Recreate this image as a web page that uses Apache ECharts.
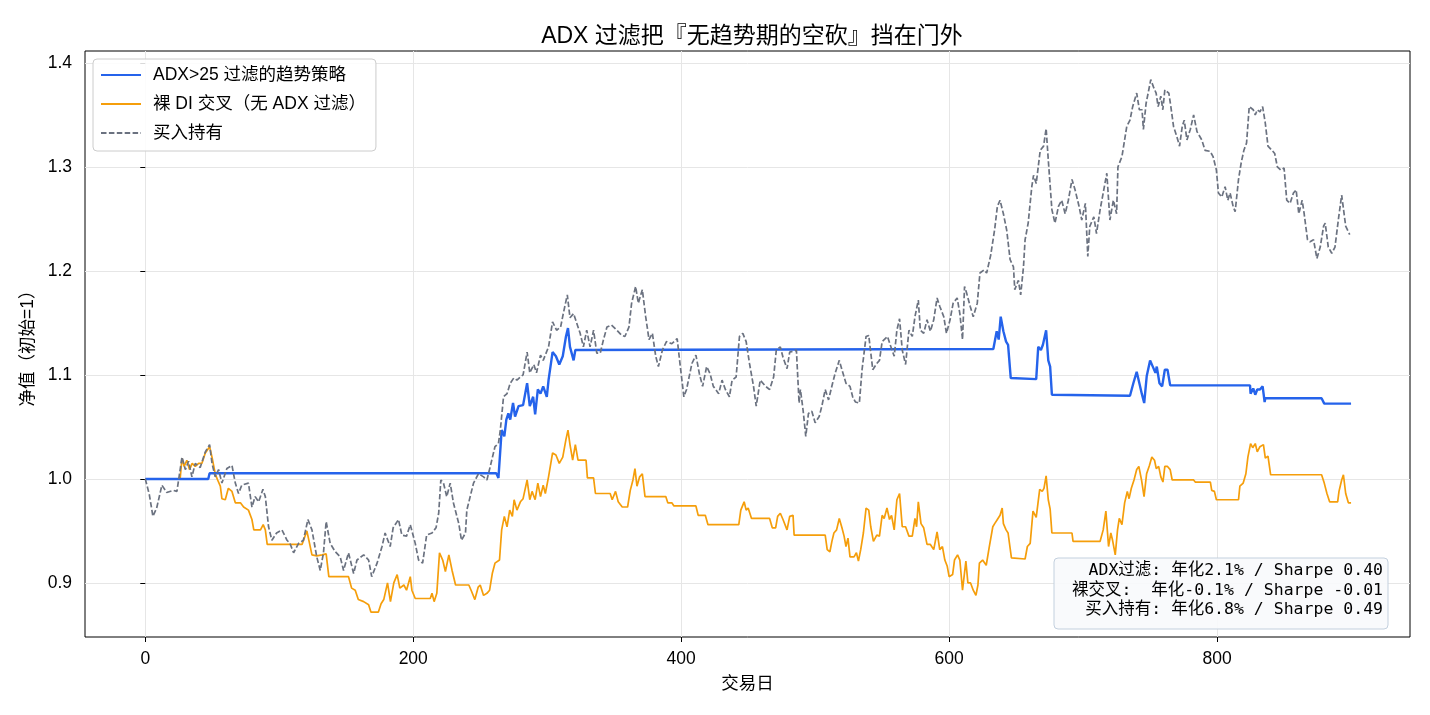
<!DOCTYPE html>
<html>
<head>
<meta charset="utf-8">
<script src="https://cdn.jsdelivr.net/npm/echarts@6/dist/echarts.min.js"></script>
<style>
html,body{margin:0;padding:0;background:#fff;}
#main{width:1430px;height:715px;}
</style>
</head>
<body>
<div id="main"></div>
<script>
const chartTitle = 'ADX 过滤把『无趋势期的空砍』挡在门外';
const seriesNames = ['ADX>25 过滤的趋势策略', '裸 DI 交叉（无 ADX 过滤）', '买入持有'];
const xTicks = [0, 200, 400, 600, 800];
const yTicks = [0.9, 1.0, 1.1, 1.2, 1.3, 1.4];
const statLines = [
  'ADX过滤: 年化2.1% / Sharpe 0.40',
  '裸交叉:  年化-0.1% / Sharpe -0.01',
  '买入持有: 年化6.8% / Sharpe 0.49'
];

// ADX>25 filtered strategy [day, nav]
const adxCurve = [[0,1.0],[47,1.0],[48,1.0055],[262,1.0055],[263.6,1.001],[266,1.047],[268,1.041],[269.5,1.057],[271,1.063],[272.4,1.057],[274.5,1.073],[276,1.060],[278.6,1.070],[282,1.071],[285,1.092],[287,1.070],[289.5,1.079],[291,1.062],[293,1.086],[295,1.082],[297,1.089],[299.7,1.079],[301,1.095],[304,1.122],[306.5,1.118],[309,1.110],[311.6,1.118],[314,1.137],[315.5,1.145],[317,1.127],[319.7,1.114],[321,1.124],[322,1.125],[633,1.125],[635.5,1.142],[637,1.134],[638.5,1.156],[640.5,1.142],[642.5,1.132],[644,1.129],[646,1.097],[665,1.096],[666.5,1.127],[668.5,1.124],[670,1.129],[672.4,1.143],[674,1.114],[675.4,1.108],[676.7,1.081],[735,1.080],[737.5,1.092],[740,1.103],[742,1.092],[743.8,1.082],[745.6,1.073],[747.5,1.099],[750,1.114],[752,1.108],[754,1.102],[755,1.108],[757,1.092],[759,1.089],[761,1.105],[763,1.105],[765,1.090],[824.6,1.090],[825,1.082],[827,1.087],[828.5,1.081],[830,1.086],[832,1.086],[834,1.089],[835.5,1.074],[836,1.0776],[878,1.0776],[880,1.0724],[900,1.0724]];

// naked DI cross [day, nav]
const diCurve = [[0,1.0],[26,1.0],[27.4,1.020],[29,1.012],[31,1.018],[33,1.009],[35,1.015],[37.3,1.012],[39.8,1.015],[42.3,1.015],[44.8,1.025],[48,1.031],[49.8,1.021],[52.2,1.005],[54,0.999],[56,0.993],[57.2,0.981],[59.7,0.980],[62,0.991],[64.7,0.988],[67.2,0.977],[71,0.977],[73.4,0.973],[77,0.970],[79.6,0.961],[81,0.951],[86,0.951],[88,0.956],[89.6,0.951],[91,0.937],[117,0.937],[118,0.938],[120.6,0.950],[122.6,0.938],[124.4,0.927],[128,0.926],[132,0.927],[135,0.928],[137,0.906],[151.7,0.906],[154,0.895],[156.7,0.893],[159,0.884],[163,0.882],[166.7,0.879],[168.4,0.872],[174,0.872],[176,0.880],[178,0.884],[180.8,0.900],[183,0.882],[185.5,0.900],[188,0.908],[190,0.895],[193,0.898],[195,0.893],[197.8,0.906],[199,0.893],[201.5,0.885],[212.7,0.885],[214,0.890],[215.6,0.882],[217.6,0.890],[219.6,0.929],[222,0.922],[224,0.911],[226.6,0.927],[229,0.912],[231.6,0.898],[241.5,0.898],[243.5,0.892],[246,0.884],[248.5,0.896],[250,0.898],[252.5,0.888],[255,0.890],[257,0.893],[259,0.909],[261,0.919],[264.4,0.922],[266,0.951],[268,0.964],[270,0.954],[272,0.970],[274,0.964],[275.3,0.980],[277.4,0.970],[280,0.978],[282,0.981],[285,0.999],[287,0.980],[288.7,0.988],[291,0.980],[293,0.996],[295,0.983],[297,0.994],[298.6,0.986],[301,1.002],[304,1.025],[306.5,1.023],[309,1.015],[311.6,1.021],[314,1.038],[315.5,1.047],[317,1.033],[319,1.018],[321,1.033],[323,1.018],[329,1.018],[330,1.001],[334.6,1.001],[336,0.986],[347,0.986],[348.5,0.980],[351,0.988],[353,0.978],[356,0.973],[360,0.973],[362,0.989],[364,0.999],[365.5,1.010],[367,0.993],[369,1.002],[371,1.005],[373,0.983],[388.5,0.983],[390,0.977],[393,0.977],[394.6,0.974],[411,0.974],[412.7,0.965],[418,0.965],[420,0.956],[443,0.956],[444.5,0.970],[447,0.978],[448.5,0.970],[450,0.972],[452.5,0.962],[466,0.962],[468,0.953],[470.5,0.953],[472,0.964],[474,0.967],[476,0.961],[479,0.951],[481,0.964],[483.5,0.965],[484.3,0.946],[507.5,0.946],[509,0.932],[511,0.930],[512.5,0.940],[514,0.948],[516,0.951],[518,0.962],[520,0.953],[521.6,0.945],[523,0.935],[524.5,0.943],[526,0.925],[529,0.925],[530.8,0.929],[532.3,0.921],[534,0.932],[536,0.948],[538,0.972],[540,0.970],[541.5,0.954],[543.5,0.940],[546,0.946],[548,0.945],[550,0.965],[551.5,0.962],[553.6,0.972],[555.5,0.961],[557,0.965],[559,0.951],[561,0.980],[563,0.986],[565,0.954],[567.5,0.954],[570,0.945],[572.5,0.945],[574.5,0.962],[575.7,0.954],[577,0.978],[579,0.957],[581,0.953],[583.5,0.937],[586,0.937],[588.5,0.932],[591,0.949],[593,0.932],[595,0.935],[596.8,0.922],[598.6,0.916],[600,0.906],[602.6,0.908],[604,0.922],[606.3,0.927],[608,0.922],[610,0.893],[611,0.893],[612.5,0.921],[614,0.900],[616,0.900],[618,0.893],[620,0.888],[621.5,0.898],[622.6,0.919],[625,0.922],[627.7,0.917],[630,0.935],[632.6,0.954],[634,0.957],[636,0.961],[638,0.965],[639.6,0.972],[640.5,0.957],[642.5,0.951],[644,0.948],[646.5,0.924],[656.7,0.923],[658.4,0.935],[660.5,0.938],[662.6,0.969],[665,0.963],[667.6,0.990],[669.5,0.988],[670.8,0.991],[672.4,1.003],[674,0.980],[675.4,0.971],[676.7,0.948],[691.7,0.948],[692.5,0.940],[712.7,0.940],[715,0.951],[717,0.969],[719,0.935],[720.7,0.948],[722,0.941],[724,0.927],[725.7,0.951],[727,0.962],[729,0.956],[731,0.977],[733,0.988],[734.3,0.981],[736,0.991],[738,0.999],[740,1.009],[741.6,1.012],[743.6,0.999],[745.5,0.983],[747.4,1.005],[749.5,1.013],[751.3,1.021],[753.3,1.018],[754.6,1.010],[756.4,1.012],[758,1.002],[759.6,0.997],[761,1.012],[763,1.012],[765,1.009],[766.5,0.999],[782.5,0.999],[783.7,0.997],[795,0.997],[796,0.989],[798,0.988],[799.5,0.980],[816,0.980],[817,0.993],[819.5,0.996],[821.5,1.005],[823,1.021],[825,1.034],[826.6,1.030],[828.5,1.034],[830,1.026],[832,1.031],[834.6,1.033],[836,1.020],[838,1.022],[840,1.004],[878,1.004],[880,0.996],[882,0.986],[884,0.978],[890,0.978],[891,0.988],[893,0.999],[894.3,1.004],[896,0.986],[898,0.977],[900,0.977]];

// buy and hold [day, nav]
const holdCurve = [[0,1.0],[3,0.985],[5.7,0.964],[8.5,0.972],[12.4,0.994],[16,0.987],[21,0.989],[23.6,0.988],[27.4,1.021],[29.9,1.009],[32.3,1.017],[34.8,1.002],[37.3,1.015],[41,1.011],[44.8,1.026],[48,1.033],[49.8,1.015],[52.2,1.002],[54.7,1.009],[57.2,0.996],[60.9,1.010],[64.7,1.013],[67.2,0.996],[69.6,0.986],[72,0.994],[77,0.996],[79.6,0.973],[82,0.983],[84.6,0.978],[87.8,0.990],[89.6,0.983],[92,0.954],[94.5,0.941],[98,0.948],[102,0.951],[105.8,0.941],[108,0.938],[110.7,0.929],[114.4,0.938],[118,0.941],[121.4,0.961],[124.4,0.951],[128,0.925],[130.6,0.912],[133,0.929],[135,0.959],[138,0.938],[141.8,0.930],[145.5,0.925],[148,0.912],[151.7,0.929],[155.5,0.909],[158,0.922],[163,0.927],[166.7,0.922],[169,0.906],[173,0.919],[176.7,0.935],[179,0.948],[182.8,0.935],[185,0.953],[189,0.961],[191.5,0.946],[195,0.945],[197.8,0.956],[201.5,0.938],[204,0.922],[207,0.919],[210,0.946],[214,0.948],[217,0.953],[219,0.967],[220.6,0.999],[222.6,0.996],[225,0.983],[227.6,0.996],[230,0.977],[234,0.957],[236,0.941],[239,0.948],[240,0.970],[242.5,0.983],[245,0.996],[248.7,1.005],[252.5,1.002],[255,0.999],[257.5,1.012],[261,1.031],[263.6,1.034],[265,1.047],[267.4,1.079],[270,1.082],[272.4,1.092],[275,1.097],[277.4,1.095],[280,1.098],[282,1.100],[285,1.122],[287,1.102],[290,1.110],[292,1.102],[295,1.119],[297,1.114],[301,1.127],[304,1.151],[307,1.143],[310,1.146],[312,1.159],[315,1.177],[317,1.155],[319.7,1.159],[322,1.150],[324.6,1.140],[327,1.127],[329.5,1.143],[332,1.127],[334.6,1.143],[337,1.121],[339.6,1.121],[342,1.134],[344.6,1.146],[348,1.148],[352,1.143],[355.7,1.138],[358,1.137],[361,1.146],[363,1.169],[366,1.185],[368,1.169],[371,1.182],[373.5,1.156],[376,1.134],[378.5,1.140],[381,1.118],[383,1.108],[386,1.124],[389,1.132],[393,1.130],[397,1.135],[399,1.112],[402,1.079],[404,1.086],[408,1.111],[411,1.119],[413.6,1.101],[416,1.089],[419,1.108],[421.6,1.101],[424,1.089],[428,1.082],[430.5,1.095],[433,1.086],[436,1.079],[438,1.095],[441,1.098],[443.5,1.137],[446,1.140],[448.5,1.132],[451,1.111],[454,1.089],[456,1.070],[459,1.095],[463,1.089],[466,1.086],[469,1.098],[471,1.124],[474,1.127],[476,1.117],[479,1.106],[481,1.122],[484,1.123],[486,1.124],[488,1.073],[489,1.086],[491,1.066],[493,1.041],[495,1.063],[497.5,1.065],[500,1.054],[503,1.060],[505,1.070],[507.5,1.086],[510,1.076],[513,1.092],[515,1.102],[518,1.114],[520,1.105],[523,1.092],[526,1.089],[528,1.079],[530,1.074],[533,1.073],[535,1.105],[538,1.137],[540,1.138],[543,1.105],[546,1.111],[548,1.114],[550,1.132],[554,1.137],[556,1.129],[559,1.118],[561,1.143],[563,1.154],[565,1.124],[567.5,1.110],[570,1.143],[572.5,1.137],[574.5,1.156],[577,1.172],[578.5,1.143],[581,1.140],[583.5,1.153],[586,1.142],[588.5,1.153],[591,1.174],[593,1.166],[596,1.156],[598,1.140],[600.7,1.153],[603,1.169],[606,1.174],[608,1.159],[610,1.134],[611.5,1.185],[613,1.179],[615.7,1.166],[618,1.156],[621,1.169],[623,1.198],[626,1.201],[628,1.198],[631,1.215],[634,1.240],[636,1.262],[638,1.268],[640.5,1.255],[643,1.239],[645.5,1.211],[648,1.204],[649,1.182],[651.7,1.191],[653.4,1.177],[655.5,1.204],[656.7,1.230],[659,1.246],[661.7,1.281],[663,1.292],[665,1.284],[668,1.316],[670.5,1.320],[672.4,1.337],[674,1.307],[676.7,1.259],[679,1.246],[681.6,1.262],[684,1.268],[686.6,1.255],[689,1.268],[691.7,1.288],[694,1.278],[697,1.262],[699,1.249],[701.7,1.265],[703.5,1.214],[705,1.243],[708,1.252],[710,1.236],[712.7,1.259],[715,1.275],[717.7,1.294],[720,1.249],[722.6,1.268],[725,1.255],[726,1.300],[729,1.310],[732.6,1.339],[735,1.345],[737,1.358],[740,1.371],[742,1.355],[744,1.355],[745,1.336],[747,1.361],[749,1.374],[750.5,1.384],[752.5,1.377],[754.5,1.371],[756,1.358],[758,1.368],[759.5,1.355],[761,1.374],[764,1.371],[765.5,1.358],[767.5,1.339],[770,1.329],[772,1.320],[774,1.339],[775.5,1.345],[777.5,1.326],[780,1.336],[782.5,1.350],[785,1.334],[788.6,1.326],[791,1.316],[794.8,1.315],[797,1.310],[799.5,1.297],[801,1.275],[803.5,1.271],[806,1.281],[808,1.268],[809.7,1.275],[812,1.262],[813.5,1.257],[816,1.288],[818,1.304],[820,1.316],[822,1.323],[824,1.358],[827,1.355],[828.5,1.350],[830,1.355],[832,1.353],[834,1.358],[836,1.342],[838,1.320],[841,1.316],[843,1.313],[845,1.300],[847.5,1.297],[850,1.299],[852,1.268],[854.5,1.265],[857,1.275],[859,1.278],[861,1.255],[863.5,1.268],[865,1.255],[867.5,1.230],[869.4,1.228],[872,1.230],[874.5,1.212],[877,1.223],[879.5,1.243],[880.7,1.246],[883,1.223],[885.6,1.217],[888,1.223],[890.8,1.252],[893,1.273],[896,1.243],[899,1.235]];

const FONT = "'Liberation Sans', Arial, 'Noto Sans CJK SC', sans-serif";
const MONO = "'DejaVu Sans Mono', 'Noto Sans CJK SC', monospace";

const chart = echarts.init(document.getElementById('main'), null, {renderer: 'canvas'});

const statTexts = statLines.map((t, i) => ({
  type: 'text', x: 1383, y: 571 + i * 19.6, z: 101,
  style: {text: t, font: '16.5px ' + MONO, fill: '#000', align: 'right', verticalAlign: 'middle'}
}));

const option = {
  animation: false,
  backgroundColor: '#ffffff',
  textStyle: {fontFamily: FONT},
  title: {
    text: chartTitle,
    left: 747, top: 20, textAlign: 'center',
    textStyle: {fontFamily: FONT, fontSize: 23, fontWeight: 'normal', color: '#000'}
  },
  grid: {
    left: 85, right: 20, top: 51, bottom: 78,
    show: true, borderColor: '#000', borderWidth: 1, backgroundColor: 'transparent'
  },
  legend: {
    orient: 'vertical', left: 93, top: 59,
    padding: [6, 10, 8, 7],
    itemWidth: 40, itemHeight: 14, itemGap: 9,
    backgroundColor: 'rgba(255,255,255,0.85)',
    borderColor: '#cccccc', borderWidth: 1, borderRadius: 4,
    itemStyle: {opacity: 0},
    textStyle: {fontFamily: FONT, fontSize: 17.5, lineHeight: 20, color: '#000', padding: [0, 0, 0, 7]},
    data: seriesNames
  },
  xAxis: {
    type: 'value', min: -45, max: 944,
    name: '交易日', nameLocation: 'middle', nameGap: 38,
    nameTextStyle: {fontFamily: FONT, fontSize: 17.5, color: '#000'},
    axisLine: {show: false},
    axisTick: {show: true, inside: false, length: 5, lineStyle: {color: '#000'}, customValues: xTicks},
    axisLabel: {fontFamily: FONT, fontSize: 17.5, color: '#000', margin: 13, customValues: xTicks},
    splitLine: {show: true, lineStyle: {color: '#e6e6e6', width: 1}}
  },
  yAxis: {
    type: 'value', min: 0.848, max: 1.4115,
    name: '净值（初始=1）', nameLocation: 'middle', nameGap: 40,
    nameTextStyle: {fontFamily: FONT, fontSize: 17.5, color: '#000'},
    axisLine: {show: false},
    axisTick: {show: true, inside: false, length: 5, lineStyle: {color: '#000'}, customValues: yTicks},
    axisLabel: {fontFamily: FONT, fontSize: 17.5, color: '#000', margin: 13,
      customValues: yTicks,
      formatter: v => v.toFixed(1)},
    splitLine: {show: true, lineStyle: {color: '#e6e6e6', width: 1}}
  },
  series: [
    {
      name: seriesNames[0], type: 'line', data: adxCurve, showSymbol: false, symbol: 'none',
      lineStyle: {color: '#2563eb', width: 2.4}, itemStyle: {color: '#2563eb'}, z: 3
    },
    {
      name: seriesNames[1], type: 'line', data: diCurve, showSymbol: false, symbol: 'none',
      lineStyle: {color: '#f59e0b', width: 1.7}, itemStyle: {color: '#f59e0b'}, z: 2
    },
    {
      name: seriesNames[2], type: 'line', data: holdCurve, showSymbol: false, symbol: 'none',
      lineStyle: {color: '#6b7280', width: 1.7, type: [5.5, 2.4]}, itemStyle: {color: '#6b7280'}, z: 4
    }
  ],
  graphic: [
    {
      type: 'rect', x: 1054, y: 558, z: 100,
      shape: {width: 334, height: 71, r: 4},
      style: {fill: 'rgba(248,250,252,0.92)', stroke: '#c3d0de', lineWidth: 1}
    }
  ].concat(statTexts)
};
chart.setOption(option);
</script>
</body>
</html>
